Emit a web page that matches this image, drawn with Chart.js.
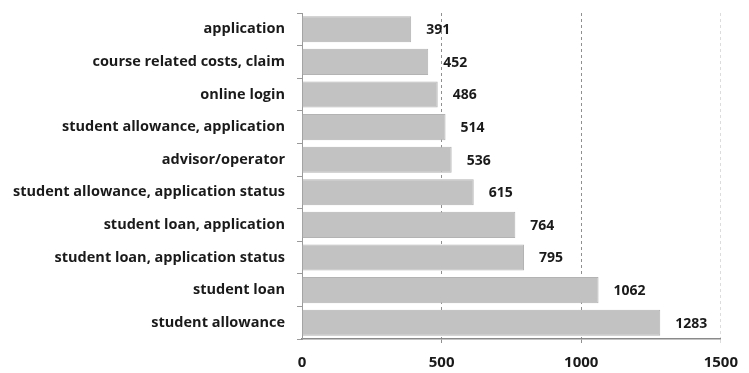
<!DOCTYPE html>
<html>
<head>
<meta charset="utf-8">
<script src="https://cdn.jsdelivr.net/npm/chart.js@4/dist/chart.umd.min.js"></script>
<style>
  html, body { margin: 0; padding: 0; background: #fff; }
  #wrap { width: 749px; height: 373px; }
</style>
</head>
<body>
<div id="wrap"><canvas id="c" width="749" height="373"></canvas></div>
<script>
// Contact reasons and their counts
const categories = [
  "application",
  "course related costs, claim",
  "online login",
  "student allowance, application",
  "advisor/operator",
  "student allowance, application status",
  "student loan, application",
  "student loan, application status",
  "student loan",
  "student allowance"
];
const counts = [391, 452, 486, 514, 536, 615, 764, 795, 1062, 1283];
const xTicks = [0, 500, 1000, 1500];

const FONT = "'Open Sans'";
const TEXT = "#1a1a1a";

// Writes each bar's count just past its end
const valueLabels = {
  id: "valueLabels",
  afterDatasetsDraw(chart) {
    const ctx = chart.ctx;
    const meta = chart.getDatasetMeta(0);
    ctx.save();
    ctx.font = "bold 14px " + FONT;
    ctx.fillStyle = TEXT;
    ctx.textAlign = "left";
    ctx.textBaseline = "middle";
    meta.data.forEach((bar, i) => {
      ctx.fillText(String(counts[i]), bar.x + 15, bar.y + 1);
    });
    ctx.restore();
  }
};

new Chart(document.getElementById("c"), {
  type: "bar",
  data: {
    labels: categories,
    datasets: [{
      data: counts,
      backgroundColor: "#c2c2c2",
      borderColor: "#b3b3b3",
      borderWidth: 1,
      categoryPercentage: 1,
      barPercentage: 0.8
    }]
  },
  options: {
    indexAxis: "y",
    responsive: false,
    animation: false,
    events: [],
    layout: { padding: { top: 13, right: 27, left: 0, bottom: 0 } },
    plugins: { legend: { display: false }, tooltip: { enabled: false } },
    scales: {
      x: {
        min: 0,
        max: 1500,
        afterBuildTicks(scale) { scale.ticks = xTicks.map(v => ({ value: v })); },
        afterFit(scale) { scale.height = 34; },
        border: { display: true, color: "#8a8a8a", width: 1.5, dash: [3, 3] },
        grid: {
          display: true,
          drawTicks: true,
          tickLength: 4,
          color: ctx => ctx.tick && ctx.tick.value === 1500 ? "#dcdcdc" : (ctx.tick && ctx.tick.value === 0 ? "rgba(0,0,0,0)" : "#8f8f8f"),
          lineWidth: 1
        },
        ticks: {
          padding: 11,
          color: TEXT,
          callback: v => String(v),
          font: { family: FONT, size: 15, weight: "bold" }
        }
      },
      y: {
        afterFit(scale) {
          scale.width = 302;
          scale.paddingTop = 0;
          scale.paddingBottom = 0;
        },
        border: { display: true, color: "#9a9a9a", width: 1 },
        grid: {
          display: true,
          drawOnChartArea: false,
          drawTicks: true,
          tickLength: 5,
          offset: true,
          color: "#9a9a9a"
        },
        ticks: {
          padding: 12,
          color: TEXT,
          font: { family: FONT, size: 14.5, weight: "bold" }
        }
      }
    }
  },
  plugins: [valueLabels]
});
</script>
</body>
</html>
